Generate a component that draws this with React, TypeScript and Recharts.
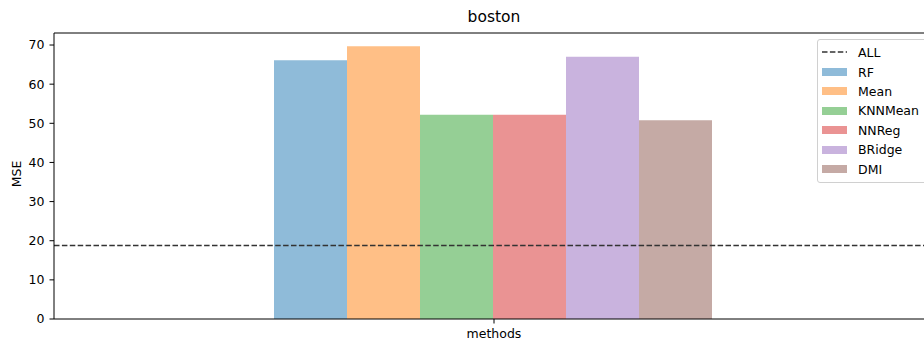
import React from "react";
import { Bar, BarChart, Label, ReferenceLine, XAxis, YAxis } from "recharts";

const categories = ["methods"];
const methodNames = ["RF", "Mean", "KNNMean", "NNReg", "BRidge", "DMI"];
const mseValues = [66.1, 69.7, 52.2, 52.2, 67.0, 50.8];
const allMse = 18.8;
const barColors = ["#8fbbd9", "#ffbf86", "#95cf95", "#ea9393", "#c9b3de", "#c5aaa5"];
const yTicks = [0, 10, 20, 30, 40, 50, 60, 70];
const yMax = 73.07;

const font = "'DejaVu Sans', sans-serif";
const fs = 12.5;

const data = categories.map((name) => {
  const row: Record<string, number | string> = { name };
  methodNames.forEach((m, i) => {
    row[m] = mseValues[i];
  });
  return row;
});

function LegendBox() {
  return (
    <div
      style={{
        position: "absolute",
        left: 817,
        top: 39,
        width: 130,
        height: 142,
        border: "1px solid #d0d0d0",
        borderRadius: 3,
        background: "rgba(255,255,255,0.8)",
        fontFamily: font,
        fontSize: fs,
        color: "#000",
      }}
    >
      <div style={{ position: "absolute", left: 4, top: 4, height: 16, display: "flex", alignItems: "center" }}>
        <svg width={25} height={10}>
          <line x1={0} y1={5} x2={25} y2={5} stroke="#333" strokeWidth={1.5} strokeDasharray="5.5 2.4" />
        </svg>
        <span style={{ marginLeft: 11 }}>ALL</span>
      </div>
      {methodNames.map((m, i) => (
        <div
          key={m}
          style={{
            position: "absolute",
            left: 4,
            top: 24 + i * 19.4,
            height: 16,
            display: "flex",
            alignItems: "center",
          }}
        >
          <div style={{ width: 25, height: 8, background: barColors[i] }} />
          <span style={{ marginLeft: 11 }}>{m}</span>
        </div>
      ))}
    </div>
  );
}

export default function App() {
  return (
    <div
      style={{
        position: "fixed",
        left: 0,
        top: 0,
        width: 924,
        height: 340,
        overflow: "hidden",
        background: "#fff",
      }}
    >
      <div
        style={{
          position: "absolute",
          left: 0,
          width: 988,
          top: 8,
          textAlign: "center",
          fontFamily: font,
          fontSize: 15.5,
          lineHeight: "18px",
          color: "#000",
        }}
      >
        boston
      </div>
      <BarChart
        width={940}
        height={340}
        data={data}
        margin={{ top: 33, right: 6, bottom: 0, left: 0 }}
        barCategoryGap={220}
        barGap={0}
      >
        <XAxis
          dataKey="name"
          height={21}
          tickSize={4.5}
          tickMargin={6}
          stroke="#000"
          tick={{ fontSize: fs, fill: "#000", fontFamily: font }}
        />
        <YAxis
          width={54}
          domain={[0, yMax]}
          ticks={yTicks}
          tickSize={4.5}
          tickMargin={5}
          stroke="#000"
          tick={{ fontSize: fs, fill: "#000", fontFamily: font }}
        >
          <Label
            content={() => (
              <text
                x={16}
                y={174}
                transform="rotate(-90, 16, 174)"
                textAnchor="middle"
                dominantBaseline="central"
                fontSize={fs}
                fontFamily={font}
                fill="#000"
              >
                MSE
              </text>
            )}
          />
        </YAxis>
        {methodNames.map((m, i) => (
          <Bar key={m} dataKey={m} fill={barColors[i]} isAnimationActive={false} />
        ))}
        <ReferenceLine y={yMax} stroke="#000" strokeWidth={1} />
        <ReferenceLine
          y={allMse}
          stroke="#333"
          strokeWidth={1.5}
          strokeDasharray="5.5 2.4"
        />
      </BarChart>
      <LegendBox />
    </div>
  );
}
